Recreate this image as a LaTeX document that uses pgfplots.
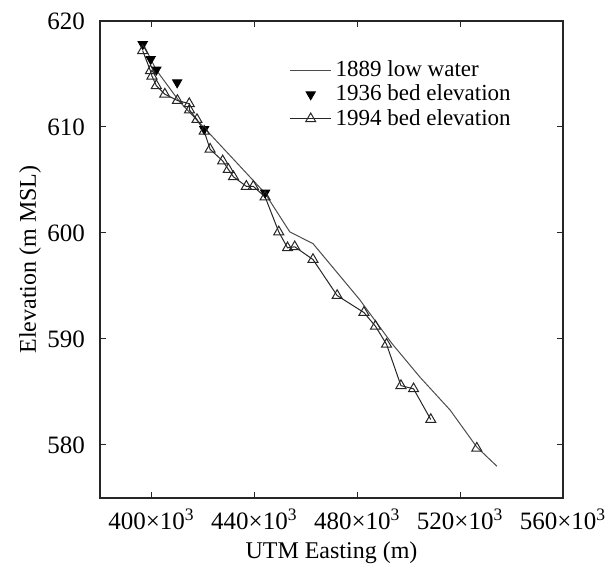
\documentclass[border=0pt]{standalone}
\usepackage{fontspec}
\setmainfont{Liberation Serif}
\usepackage{pgfplots}
\pgfplotsset{compat=1.18}
\begin{document}
\fontsize{11.5bp}{13.8bp}\selectfont
\begin{tikzpicture}
\begin{axis}[
  at={(0,0)}, anchor=south west,
  scale only axis, width=231.5bp, height=238.5bp,
  xmin=380, xmax=560, ymin=575, ymax=620,
  xtick={400,440,480,520,560},
  xticklabels={400×10\textsuperscript{3},440×10\textsuperscript{3},480×10\textsuperscript{3},520×10\textsuperscript{3},560×10\textsuperscript{3}},
  ytick={580,590,600,610,620},
  tick align=inside,
  major tick length=3bp,
  /pgf/number format/assume math mode=true,
  ticklabel style={font=\fontsize{12.5bp}{15bp}\selectfont},
  yticklabel style={xshift=-3.5bp},
  xticklabel style={anchor=base, yshift=-15.75bp},
  axis line style={line width=0.6bp, black!85},
  tick style={black!85, line width=0.5bp},
  xlabel={UTM Easting (m)}, ylabel={Elevation (m MSL)},
  label style={font=\fontsize{12bp}{14.4bp}\selectfont},
  xlabel style={at={(axis description cs:0.5,-0.1153)}, anchor=center},
  ylabel style={at={(axis description cs:-0.151,0.5)}, anchor=center},
  legend cell align=left,
  legend style={draw=none, fill=none, at={(0.396,0.935)}, anchor=north west, row sep=-1.5bp},
  legend image code/.code={\draw[mark repeat=2,mark phase=2,#1] plot coordinates {(0bp,0bp) (10.25bp,0bp) (20.5bp,0bp)};},
]
\addplot[gray!60!black, line width=0.5bp, mark=none] coordinates {
(396.5,618.0) (401.8,615.4) (410.9,612.4) (420.6,609.9) (444.0,603.8)
(453.8,600.1) (462.8,599.0) (481.0,593.7) (493.4,589.6) (504.4,586.4)
(516.1,583.3) (526.5,579.8) (534.3,578.0)
};
\addlegendentry{1889 low water}
\addplot[only marks, mark=triangle*, mark size=2.7bp, mark options={rotate=180, fill=black, draw=black}] coordinates {
(396.6,617.8) (399.7,616.4) (401.9,615.4) (410.0,614.2) (420.5,609.8) (444.2,603.8)
};
\addlegendentry{1936 bed elevation}
\addplot[black!85, line width=0.5bp, mark=triangle, mark size=2.9bp, mark options={solid, fill=white, line width=0.5bp}, unbounded coords=jump] coordinates {
(396.6,617.2) (399.6,615.3) (400.2,614.8) (401.9,613.9) (405.2,613.1)
(410.1,612.5) (414.7,612.2) (414.8,611.6) (417.7,610.7) (420.5,609.6)
(422.8,607.9) (427.7,606.8) (429.9,606.0) (431.9,605.3) (436.9,604.4)
(439.6,604.4) (444.2,603.4) (449.5,600.1) (452.9,598.6) (455.7,598.7)
(462.8,597.5) (472.2,594.1) (482.6,592.5) (487.1,591.2) (491.4,589.5)
(497.0,585.6) (501.9,585.3) (508.6,582.4) (515.0,nan) (526.5,579.7)
};
\addlegendentry{1994 bed elevation}
\end{axis}
\pgfresetboundingbox
\path[use as bounding box] (-50bp,-35.5bp) rectangle (258bp,249bp);
\end{tikzpicture}
\end{document}
